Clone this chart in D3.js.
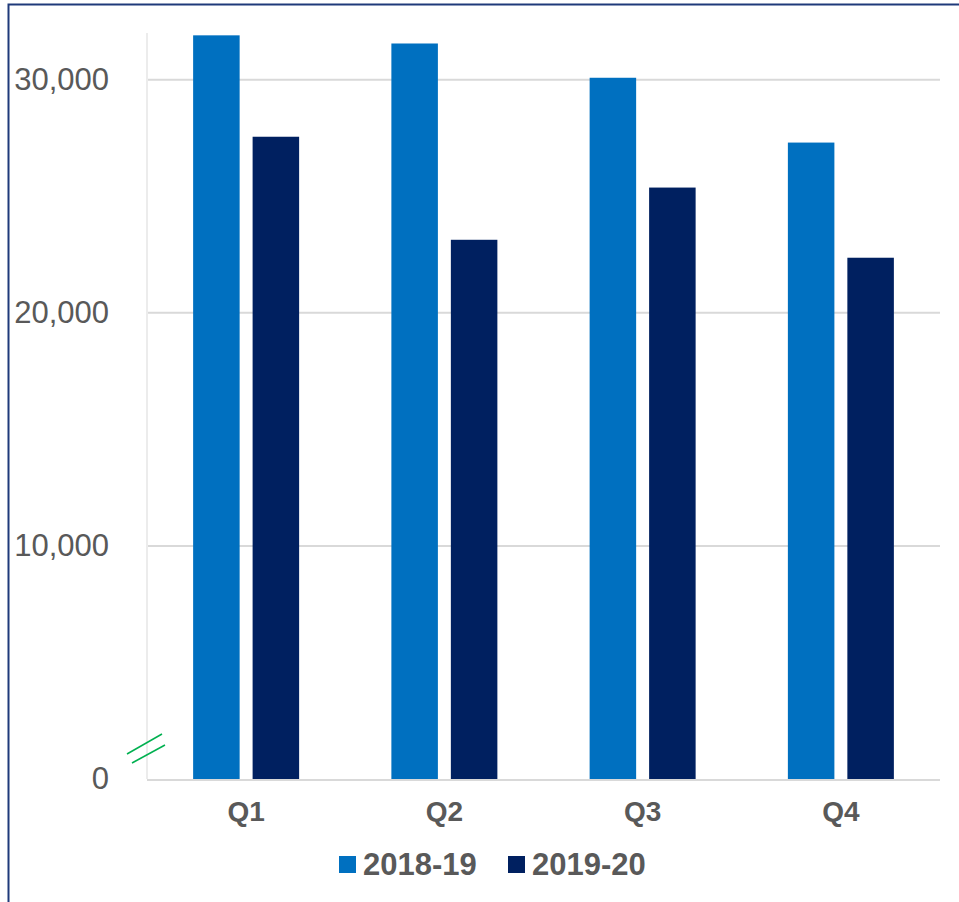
<!DOCTYPE html>
<html>
<head>
<meta charset="utf-8">
<script src="https://cdn.jsdelivr.net/npm/d3@7"></script>
<style>
  body { margin: 0; background: #fff; }
  svg { display: block; }
</style>
</head>
<body>
<div id="chart"></div>
<script>
var quarters = ['Q1', 'Q2', 'Q3', 'Q4'];
var seriesNames = ['2018-19', '2019-20'];
var values1819 = [31900, 31550, 30080, 27300];
var values1920 = [27550, 23130, 25370, 22360];
var tickValues = [0, 10000, 20000, 30000];
var colors = ['#0070c0', '#002060'];

var width = 959, height = 902;
var margin = {top: 33, left: 147, right: 19, bottom: 123};

var svg = d3.select('#chart')
  .append('svg')
  .attr('width', width)
  .attr('height', height);

// outer frame (only top and left edges show in the crop)
svg.append('rect')
  .attr('x', 8.5)
  .attr('y', 4.5)
  .attr('width', 1000)
  .attr('height', 1000)
  .attr('fill', 'none')
  .attr('stroke', '#1f3a7a')
  .attr('stroke-width', 2);

var x = d3.scaleBand()
  .domain(quarters)
  .range([margin.left, width - margin.right]);

var x1 = d3.scaleBand()
  .domain(seriesNames)
  .range([0, 106])
  .paddingInner(0.218);

var y = d3.scaleLinear()
  .domain([0, 32000])
  .range([height - margin.bottom, margin.top]);

// gridlines
svg.append('g')
  .selectAll('line')
  .data(tickValues.slice(1))
  .enter().append('line')
  .attr('x1', margin.left)
  .attr('x2', width - margin.right)
  .attr('y1', function (d) { return y(d); })
  .attr('y2', function (d) { return y(d); })
  .attr('stroke', '#d9d9d9')
  .attr('stroke-width', 2);

// vertical axis line
svg.append('line')
  .attr('x1', margin.left)
  .attr('x2', margin.left)
  .attr('y1', margin.top)
  .attr('y2', y(0))
  .attr('stroke', '#ececec')
  .attr('stroke-width', 2);

var yAxis = svg.append('g')
  .attr('transform', 'translate(109,0)')
  .call(d3.axisLeft(y).tickValues(tickValues).tickSize(0).tickPadding(0)
    .tickFormat(d3.format(',')));
yAxis.select('.domain').remove();
yAxis.selectAll('text')
  .attr('fill', '#595959')
  .style('font-family', '"Liberation Sans", Arial, sans-serif')
  .style('font-size', '31px');

var data = quarters.map(function (q, i) {
  return {q: q, vals: [values1819[i], values1920[i]]};
});

var groups = svg.selectAll('.grp')
  .data(data)
  .enter().append('g')
  .attr('class', 'grp')
  .attr('transform', function (d) {
    return 'translate(' + (x(d.q) + x.bandwidth() / 2 - 53) + ',0)';
  });

groups.selectAll('rect')
  .data(function (d) {
    return d.vals.map(function (v, i) { return {key: seriesNames[i], value: v, i: i}; });
  })
  .enter().append('rect')
  .attr('x', function (d) { return x1(d.key); })
  .attr('width', x1.bandwidth())
  .attr('y', function (d) { return y(d.value); })
  .attr('height', function (d) { return y(0) - y(d.value); })
  .attr('fill', function (d) { return colors[d.i]; });

// baseline
svg.append('line')
  .attr('x1', margin.left)
  .attr('x2', width - margin.right)
  .attr('y1', y(0) + 1)
  .attr('y2', y(0) + 1)
  .attr('stroke', '#d9d9d9')
  .attr('stroke-width', 2);

// axis break marks
var brk = svg.append('g').attr('stroke', '#00b050').attr('stroke-width', 1.5);
brk.append('line').attr('x1', 127).attr('y1', 754).attr('x2', 162).attr('y2', 734);
brk.append('line').attr('x1', 132).attr('y1', 763).attr('x2', 165).attr('y2', 745);

var xAxis = svg.append('g')
  .attr('transform', 'translate(0,' + (y(0) + 2) + ')')
  .call(d3.axisBottom(x).tickSize(0).tickPadding(20));
xAxis.select('.domain').remove();
xAxis.selectAll('text')
  .attr('fill', '#595959')
  .style('font-family', '"Liberation Sans", Arial, sans-serif')
  .style('font-weight', 'bold')
  .style('font-size', '28px');

// legend
var legendX = [339, 508];
var legend = svg.selectAll('.legend')
  .data(seriesNames)
  .enter().append('g')
  .attr('class', 'legend')
  .attr('transform', function (d, i) { return 'translate(' + legendX[i] + ',856)'; });

legend.append('rect')
  .attr('width', 17)
  .attr('height', 17)
  .attr('fill', function (d, i) { return colors[i]; });

legend.append('text')
  .attr('x', 24)
  .attr('y', 19)
  .attr('fill', '#595959')
  .style('font-family', '"Liberation Sans", Arial, sans-serif')
  .style('font-weight', 'bold')
  .style('font-size', '31px')
  .text(function (d) { return d; });
</script>
</body>
</html>
